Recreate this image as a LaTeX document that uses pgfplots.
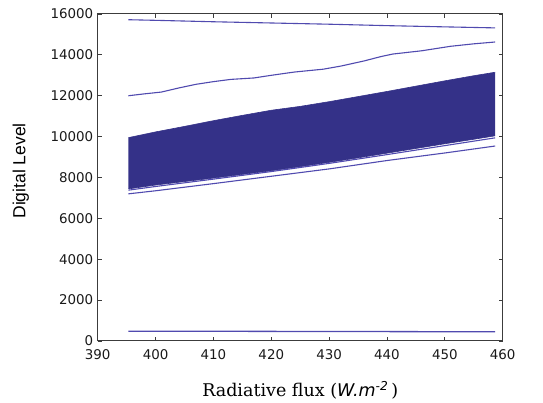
\documentclass[border=0pt]{standalone}
\usepackage{fontspec}
\setmainfont{DejaVu Sans}
\setsansfont{DejaVu Sans}
\newfontfamily\labelfont{Liberation Sans}
\newfontfamily\seriffont{DejaVu Serif}
\usepackage{pgfplots}
\pgfplotsset{compat=1.18}
\usepgfplotslibrary{fillbetween}

\definecolor{bandblue}{RGB}{52,49,136}
\definecolor{lineblue}{RGB}{80,74,175}
\definecolor{axisgray}{RGB}{60,60,60}

\begin{document}
\begin{tikzpicture}
    \begin{axis}[
            scale only axis,
            width=405pt,
            height=327pt,
            xmin=390, xmax=460,
            ymin=0, ymax=16000,
            xtick={390,400,...,460},
            ytick={0,2000,...,16000},
            scaled y ticks=false,
            /pgf/number format/assume math mode=true,
            /pgf/number format/set thousands separator={},
            tick label style={font=\fontsize{13.4}{15}\selectfont, text=black!90, inner ysep=0.5pt},
            xticklabel style={yshift=-8pt},
            yticklabel style={xshift=-1pt},
            tick align=inside,
            major tick length=4pt,
            tick style={axisgray, line width=0.8pt},
            axis line style={axisgray, line width=1pt},
            xlabel={\seriffont Radiative flux ({\sffamily\itshape W.m\textsuperscript{-2}}\,)},
            ylabel={\labelfont Digital Level},
            xlabel style={font=\fontsize{17.5}{20}\selectfont, at={(axis description cs:0.5,-0.15)}, anchor=center},
            ylabel style={font=\fontsize{17.5}{20}\selectfont, at={(axis description cs:-0.19,0.52)}, anchor=center},
            clip=false
        ]

        % band, upper edge
        \addplot[name path=upper, draw=bandblue, line width=0.6pt] coordinates {
            (395.3,9950) (400,10230) (405,10500) (410,10780) (415,11040)
            (420,11290) (425,11480) (430,11710) (435,11960) (440,12210)
            (445,12470) (450,12730) (455,12980) (458.7,13150)
        };
        % band, lower edge
        \addplot[name path=lower, draw=bandblue, line width=0.6pt] coordinates {
            (395.3,7440) (400,7630) (405,7800) (410,7970) (415,8150)
            (420,8330) (425,8530) (430,8740) (435,8960) (440,9190)
            (445,9420) (450,9650) (455,9870) (458.7,10040)
        };
        \addplot[bandblue] fill between[of=upper and lower];

        % single curves
        \addplot[lineblue, line width=1.1pt] coordinates {
            (395.3,15720) (400,15690) (410,15620) (420,15560) (430,15500)
            (440,15430) (450,15370) (458.7,15320)
        };
        \addplot[lineblue, line width=1.1pt] coordinates {
            (395.3,12000) (398,12090) (401,12180) (404,12380) (407,12560)
            (410,12690) (413,12800) (417,12870) (420,13000) (424,13160)
            (429,13300) (432,13450) (436,13700) (439,13920) (441,14040)
            (446,14200) (451,14420) (455,14540) (458.7,14630)
        };
        \addplot[lineblue, line width=1.1pt] coordinates {
            (395.3,7380) (400,7560) (410,7920) (420,8290) (430,8690)
            (440,9120) (450,9560) (458.7,9940)
        };
        \addplot[lineblue, line width=1.1pt] coordinates {
            (395.3,7200) (400,7350) (410,7700) (420,8060) (430,8420)
            (440,8830) (450,9200) (458.7,9540)
        };
        \addplot[lineblue, line width=1.3pt] coordinates {
            (395.3,480) (410,475) (420,470) (430,465) (440,460) (450,455) (458.7,450)
        };
    \end{axis}
    \pgfresetboundingbox
    \path[use as bounding box] (-97.7pt,-62pt) rectangle (445.3pt,341pt);
\end{tikzpicture}
\end{document}
